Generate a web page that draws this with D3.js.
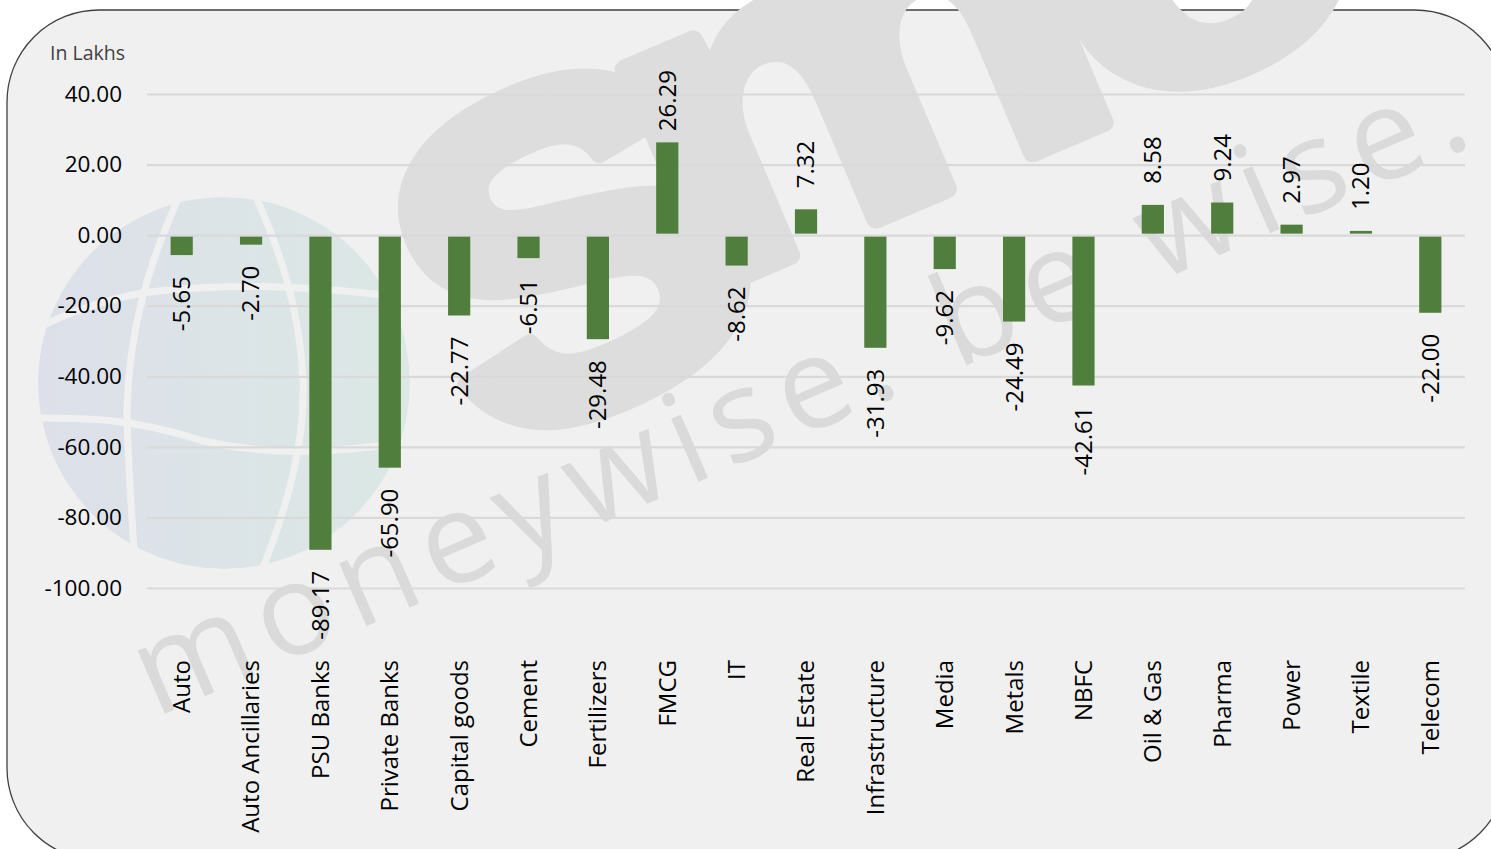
<!DOCTYPE html>
<html><head><meta charset="utf-8">
<script src="https://cdn.jsdelivr.net/npm/d3@7"></script>
<style>html,body{margin:0;padding:0;background:#fff;overflow:hidden}svg{display:block}</style>
</head><body>
<svg id="c" width="1491" height="849"></svg>
<script>
const categories = ["Auto","Auto Ancillaries","PSU Banks","Private Banks","Capital goods","Cement","Fertilizers","FMCG","IT","Real Estate","Infrastructure","Media","Metals","NBFC","Oil & Gas","Pharma","Power","Textile","Telecom"];
const values = [-5.65,-2.70,-89.17,-65.90,-22.77,-6.51,-29.48,26.29,-8.62,7.32,-31.93,-9.62,-24.49,-42.61,8.58,9.24,2.97,1.20,-22.00];
const yTicks = [40,20,0,-20,-40,-60,-80,-100];
const unitLabel = "In Lakhs";
const watermarkBrandS = "s";
const watermarkBrandMC = "mc";
const watermarkTag = "moneywise. be wise.";

const svg = d3.select("#c");
const FONT = "'Open Sans', 'Noto Sans', sans-serif";
const fmt = d => d.toFixed(2);

// card background
svg.append("rect").attr("x",7).attr("y",10).attr("width",1500).attr("height",850)
  .attr("rx",92).attr("ry",92).attr("fill","#f0f0f0").attr("stroke","#404040").attr("stroke-width",1.3);

// watermark: globe
const defs = svg.append("defs");
const grad = defs.append("linearGradient").attr("id","gl").attr("x1","0").attr("x2","1").attr("y1","0").attr("y2","0");
grad.append("stop").attr("offset","0").attr("stop-color","#dde0ea");
grad.append("stop").attr("offset","1").attr("stop-color","#dbe8e4");
defs.append("clipPath").attr("id","gc").append("circle").attr("cx",224).attr("cy",383).attr("r",186);
const globe = svg.append("g").attr("clip-path","url(#gc)");
globe.append("circle").attr("cx",224).attr("cy",383).attr("r",186).attr("fill","url(#gl)");
const gLines = [
  "M30,332 C80,305 130,295 143,293 C220,282 320,285 420,300",
  "M30,418 C90,418 130,418 200,440 C260,455 330,455 420,440",
  "M180,195 C150,260 128,330 127,413 C128,470 132,510 135,570",
  "M255,195 C280,250 300,310 303,380 C305,440 290,500 262,570"
];
globe.selectAll("path.gl").data(gLines).join("path").attr("d",d=>d)
  .attr("fill","none").attr("stroke","#f0f0f0").attr("stroke-width",7);

// watermark: brand letters
const brandFont = "'Liberation Sans', Arial, sans-serif";
svg.append("text").text(watermarkBrandS)
  .attr("transform","translate(570,246) rotate(-25) scale(1.05,1)")
  .attr("text-anchor","middle").attr("y",160)
  .attr("font-family",brandFont).attr("font-weight","bold").attr("font-size",600)
  .attr("fill","#dddddd").attr("stroke","#dddddd").attr("stroke-width",16).attr("stroke-linejoin","round");
svg.append("text").text(watermarkBrandMC)
  .attr("transform","translate(685,301) rotate(-23) scale(1.22,1)")
  .attr("font-family",brandFont).attr("font-weight","bold")
  .attr("font-size",450).attr("letter-spacing",-30)
  .attr("fill","#dddddd").attr("stroke","#dddddd").attr("stroke-width",18).attr("stroke-linejoin","round");

// watermark: tagline
svg.append("text").text(watermarkTag)
  .attr("transform","translate(155,718) rotate(-23.5)")
  .attr("font-family",FONT).attr("font-size",128).attr("fill","#dadada")
  .attr("textLength",1440).attr("lengthAdjust","spacing");

// scales
const x = d3.scaleBand().domain(categories).range([147,1465]).paddingInner(0.68).paddingOuter(0.34);
const y = d3.scaleLinear().domain([-100,40]).range([588,94]);

// y axis with gridlines
const yAxis = svg.append("g").attr("transform","translate(147,0)")
  .call(d3.axisLeft(y).tickValues(yTicks).tickFormat(fmt).tickSize(-(1465-147)).tickPadding(25));
yAxis.select(".domain").remove();
yAxis.selectAll(".tick line").attr("stroke","#d9d9d9").attr("stroke-width",2.2);
yAxis.selectAll(".tick text").attr("font-family",FONT).attr("font-size",22.5).attr("fill","#000");

svg.append("text").text(unitLabel).attr("x",50).attr("y",60)
  .attr("font-family",FONT).attr("font-size",19.5).attr("fill","#404040");

// bars
svg.append("g").selectAll("rect").data(values).join("rect")
  .attr("x",(d,i)=>x(categories[i]))
  .attr("width",x.bandwidth())
  .attr("y",d=> d>=0 ? y(d) : y(0)+1.5)
  .attr("height",d=> Math.max(0.8, Math.abs(y(d)-y(0)) - 1.5))
  .attr("fill","#507e3c");

// data labels
const gap = 21, plotTop = 70;
const lbl = svg.append("g").selectAll("text").data(values).join("text")
  .text(fmt)
  .attr("font-family",FONT).attr("font-size",24).attr("fill","#000");
lbl.each(function(d,i){
  const t = d3.select(this);
  const len = this.getComputedTextLength();
  const cx = x(categories[i]) + x.bandwidth()/2;
  let anchorY, anchor;
  if (d >= 0) {
    anchorY = Math.max(y(d) - gap, plotTop + len);
    anchor = "start";
  } else {
    anchorY = y(d) + gap;
    anchor = "end";
  }
  t.attr("text-anchor",anchor).attr("dy","0.35em")
   .attr("transform",`translate(${cx},${anchorY}) rotate(-90)`);
});

// category labels
svg.append("g").selectAll("text").data(categories).join("text")
  .text(d=>d)
  .attr("font-family",FONT).attr("font-size",24).attr("fill","#000")
  .attr("text-anchor","end").attr("dy","0.35em")
  .attr("transform",d=>`translate(${x(d)+x.bandwidth()/2},660) rotate(-90)`);
</script>
</body></html>
